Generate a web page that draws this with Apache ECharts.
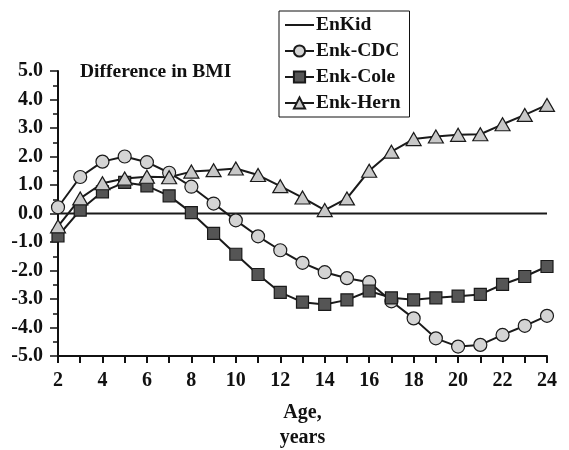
<!DOCTYPE html>
<html style="height: 100%">
<head>
    <meta charset="utf-8">
</head>
<body style="height: 100%; margin: 0; background: #fff">
    <div id="main" style="width: 569px; height: 450px"></div>
    <script src="https://cdn.jsdelivr.net/npm/echarts@6/dist/echarts.min.js"></script>
    <script type="text/javascript">

        // ages 2..24
        var ages = [2, 3, 4, 5, 6, 7, 8, 9, 10, 11, 12, 13, 14, 15, 16, 17, 18, 19, 20, 21, 22, 23, 24];

        var enKid = [0, 0, 0, 0, 0, 0, 0, 0, 0, 0, 0, 0, 0, 0, 0, 0, 0, 0, 0, 0, 0, 0, 0];
        var enkCDC = [0.22, 1.28, 1.82, 2.0, 1.8, 1.43, 0.94, 0.35, -0.24, -0.8, -1.29, -1.73, -2.06, -2.27, -2.41,
            -3.08, -3.68, -4.38, -4.67, -4.61, -4.26, -3.94, -3.59];
        var enkCole = [-0.79, 0.12, 0.76, 1.09, 0.97, 0.62, 0.03, -0.7, -1.43, -2.14, -2.77, -3.11, -3.19, -3.03, -2.72,
            -2.96, -3.03, -2.96, -2.9, -2.84, -2.49, -2.21, -1.86];
        var enkHern = [-0.45, 0.53, 1.06, 1.23, 1.29, 1.27, 1.47, 1.52, 1.58, 1.35, 0.96, 0.56, 0.12, 0.53, 1.5,
            2.17, 2.61, 2.7, 2.76, 2.78, 3.13, 3.46, 3.81];

        var yTicks = [-5, -4, -3, -2, -1, 0, 1, 2, 3, 4, 5];

        function pairs(vals) {
            return ages.map(function (a, i) { return [a, vals[i]]; });
        }

        var font = 'Liberation Serif';
        var chart = echarts.init(document.getElementById('main'));

        var lineStyle = { color: '#1a1a1a', width: 2 };

        chart.setOption({
            animation: false,
            backgroundColor: '#fff',
            textStyle: { fontFamily: font, fontWeight: 'bold', color: '#111' },
            grid: { left: 58, right: 22, top: 71, bottom: 94, containLabel: false, outerBoundsMode: 'none' },
            graphic: [{
                type: 'text',
                left: 80,
                top: 62,
                style: {
                    text: 'Difference in BMI',
                    font: 'bold 19.5px "Liberation Serif"',
                    fill: '#111'
                }
            }],
            legend: {
                orient: 'vertical',
                left: 279,
                top: 11,
                padding: [4, 9, 4, 5],
                itemGap: 6,
                itemWidth: 29,
                itemHeight: 14,
                borderColor: '#111',
                borderWidth: 1,
                backgroundColor: '#fff',
                textStyle: { fontFamily: font, fontWeight: 'bold', fontSize: 19.5, color: '#111', padding: [0, 0, 0, -3] },
                data: [
                    { name: 'EnKid', itemStyle: { color: 'rgba(0,0,0,0)', borderWidth: 0 } },
                    'Enk-CDC', 'Enk-Cole', 'Enk-Hern'
                ]
            },
            xAxis: {
                type: 'value',
                min: 2,
                max: 24,
                interval: 1,
                name: 'Age,\nyears',
                nameLocation: 'middle',
                nameGap: 44,
                nameTextStyle: { fontFamily: font, fontWeight: 'bold', fontSize: 20, color: '#111', lineHeight: 25 },
                axisLine: { onZero: false, lineStyle: { color: '#111', width: 2 } },
                axisTick: { inside: false, length: 7, lineStyle: { color: '#111', width: 2 } },
                axisLabel: {
                    margin: 15,
                    fontFamily: font, fontWeight: 'bold', fontSize: 20, color: '#111',
                    formatter: function (v) { return v % 2 === 0 ? String(v) : ''; }
                },
                splitLine: { show: false }
            },
            yAxis: {
                type: 'value',
                min: yTicks[0],
                max: yTicks[yTicks.length - 1],
                interval: 1,
                axisLine: { show: true, lineStyle: { color: '#111', width: 2 } },
                axisTick: { show: true, length: 8, lineStyle: { color: '#111', width: 1.5 } },
                minorTick: { show: true, splitNumber: 2, length: 5, lineStyle: { color: '#111', width: 1.5 } },
                axisLabel: {
                    margin: 15,
                    fontFamily: font, fontWeight: 'bold', fontSize: 20, color: '#111',
                    formatter: function (v) { return v.toFixed(1); }
                },
                splitLine: { show: false }
            },
            series: [{
                name: 'EnKid',
                type: 'line',
                showSymbol: false,
                symbol: 'none',
                lineStyle: lineStyle,
                itemStyle: { color: '#1a1a1a' },
                data: pairs(enKid)
            }, {
                name: 'Enk-CDC',
                type: 'line',
                symbol: 'circle',
                symbolSize: 13,
                lineStyle: lineStyle,
                itemStyle: { color: '#d4d4d4', borderColor: '#1a1a1a', borderWidth: 1.2 },
                data: pairs(enkCDC)
            }, {
                name: 'Enk-Cole',
                type: 'line',
                symbol: 'rect',
                symbolSize: 12,
                lineStyle: lineStyle,
                itemStyle: { color: '#555555', borderColor: '#1a1a1a', borderWidth: 1.2 },
                data: pairs(enkCole)
            }, {
                name: 'Enk-Hern',
                type: 'line',
                symbol: 'triangle',
                symbolSize: [15, 13],
                lineStyle: lineStyle,
                itemStyle: { color: '#c8c8c8', borderColor: '#1a1a1a', borderWidth: 1.2 },
                data: pairs(enkHern)
            }]
        });

    </script>
</body>
</html>
